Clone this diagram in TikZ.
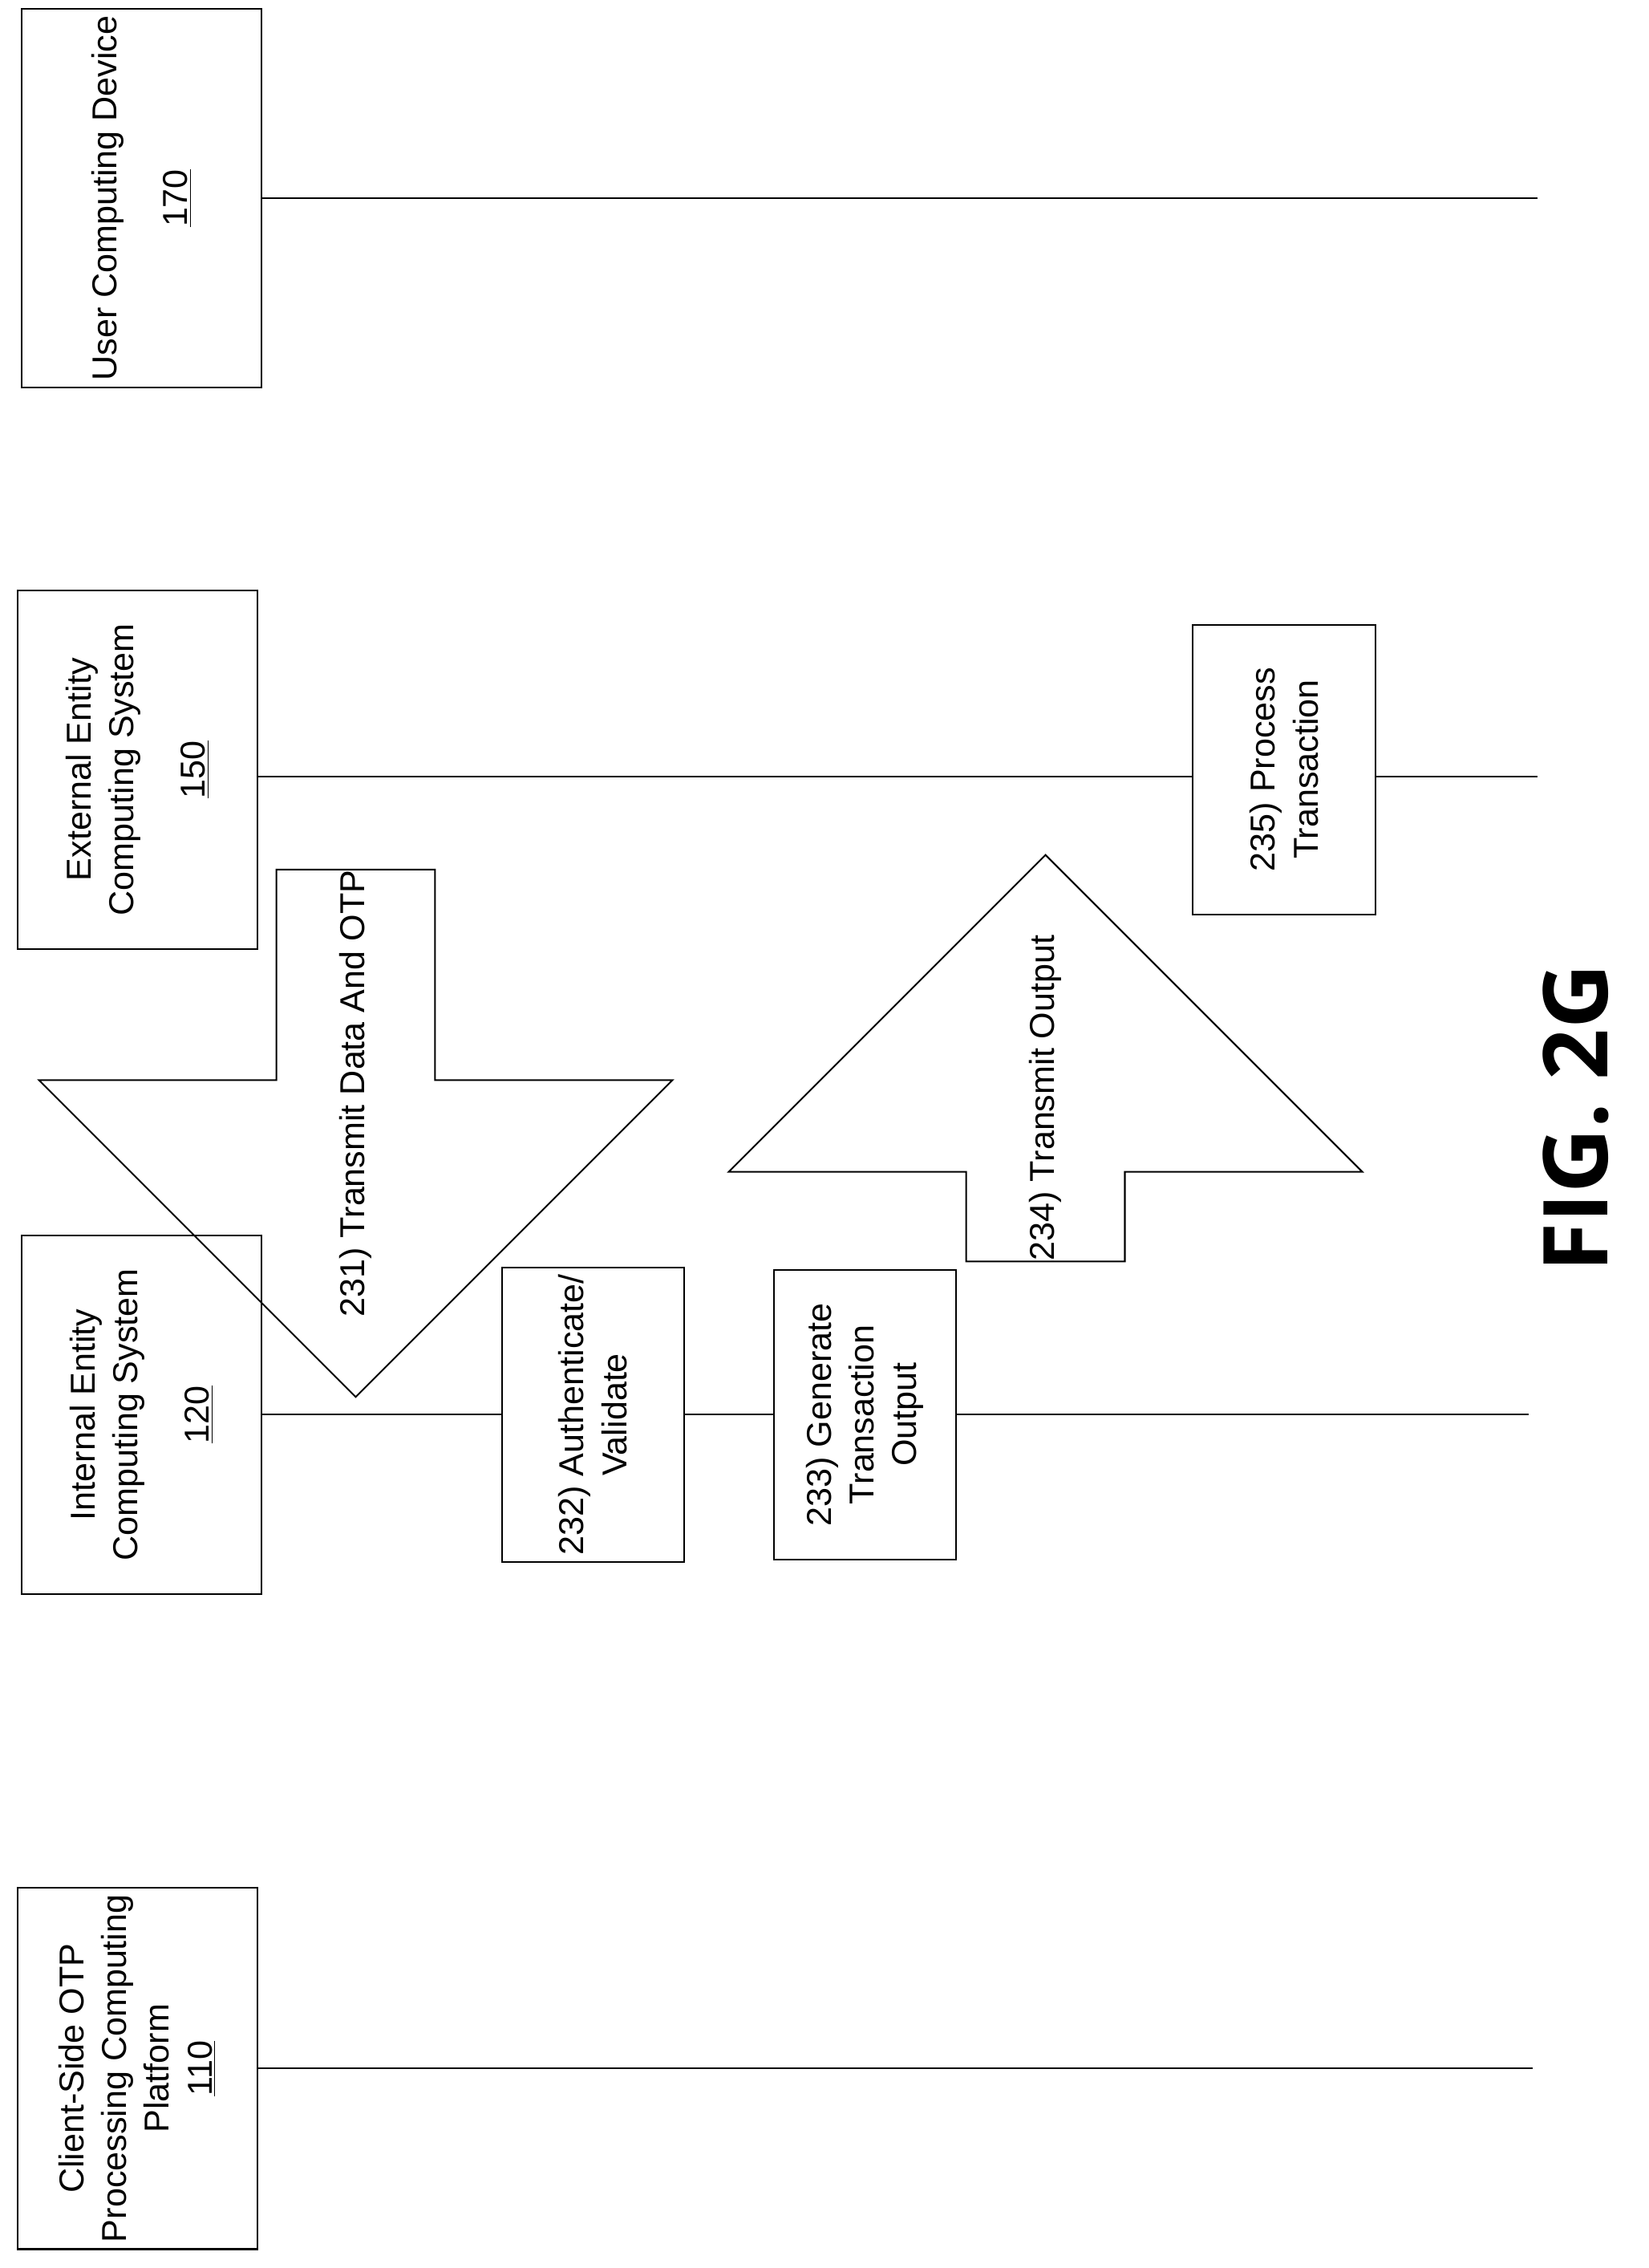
\documentclass[tikz,border=0pt]{standalone}
\usepackage{fontspec}
\setmainfont{Liberation Sans}
\newfontfamily\figfont{Open Sans}
\usetikzlibrary{shapes.arrows}

\begin{document}
\begin{tikzpicture}[x=0.025cm, y=-0.025cm, thick]
\tikzstyle{ent}=[draw, fill=white, rotate=90, align=center, minimum width=6.2cm, minimum height=4.15cm, font=\fontsize{17}{21}\selectfont]
\tikzstyle{stepbox}=[draw, fill=white, rotate=90, align=center, minimum width=5cm, minimum height=3.15cm, font=\fontsize{17}{21}\selectfont]
\tikzstyle{bigarrow}=[draw, single arrow, rotate=90, minimum height=0.8cm, minimum width=10.95cm, single arrow head extend=0.875cm, single arrow tip angle=90, inner sep=0pt, font=\fontsize{17}{21}\selectfont]
\useasboundingbox (0,0) rectangle (1140,1568);
% lifelines
\coordinate (ucdEnd) at (1063,137);
\coordinate (eecEnd) at (1063,537);
\coordinate (iecEnd) at (1057,978);
\coordinate (cspEnd) at (1060,1430);
\node[ent] (ucd) at (98,137)  {User Computing Device\\[14pt]\underline{170}};
\node[ent] (eec) at (95,532)  {External Entity\\Computing System\\[14pt]\underline{150}};
\node[ent] (iec) at (98,978)  {Internal Entity\\Computing System\\[14pt]\underline{120}};
\node[ent] (csp) at (95,1430) {Client-Side OTP\\Processing Computing\\Platform\\\underline{110}};
\draw (ucd.south |- ucdEnd) -- (ucdEnd);
\draw (eec.south |- eecEnd) -- (eecEnd);
\draw (iec.south |- iecEnd) -- (iecEnd);
\draw (csp.south |- cspEnd) -- (cspEnd);
% steps
\node[bigarrow, shape border rotate=180] (s231) at (246,756) {231) Transmit Data And OTP};
\node[stepbox] (s232) at (410,978) {232) Authenticate/\\Validate};
\node[stepbox] (s233) at (598,978) {233) Generate\\Transaction\\Output};
\node[bigarrow] (s234) at (723,759) {234) Transmit Output};
\node[stepbox] (s235) at (888,532) {235) Process\\Transaction};
\node[rotate=90, font=\figfont\bfseries\fontsize{44}{50}\selectfont] (fig) at (1090,773) {FIG. 2G};
\end{tikzpicture}
\end{document}
